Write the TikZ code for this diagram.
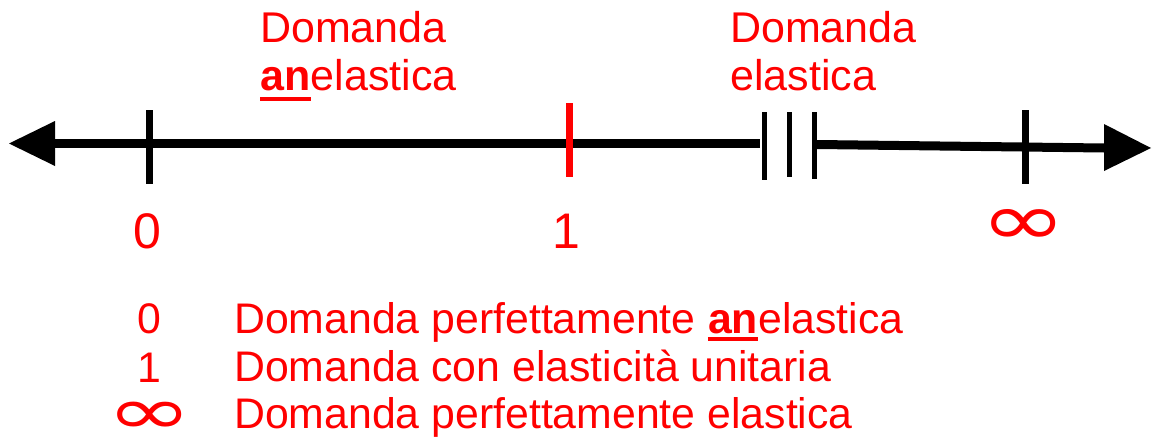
\documentclass[tikz,border=0pt]{standalone}
\usepackage{fontspec}
\usepackage{graphicx}
\setmainfont{Liberation Sans}
\newfontfamily\dejavu{DejaVu Sans}
\begin{document}
\begin{tikzpicture}[x=1pt,y=-1pt,
  lab/.style={text=red, inner sep=0, font=\fontsize{43}{48}\selectfont, anchor=base west},
  leg/.style={text=red, inner sep=0, font=\fontsize{42.8}{48}\selectfont, anchor=base west},
  num/.style={text=red, inner sep=0, font=\fontsize{50}{56}\selectfont, anchor=base},
  lnum/.style={text=red, inner sep=0, font=\fontsize{42.8}{48}\selectfont, anchor=base},
  inf/.style={text=red, inner sep=0, font=\dejavu\fontsize{74}{80}\selectfont, anchor=center},
  axis/.style={line width=9pt},
  tick/.style={line width=7pt},
  brk/.style={line width=5pt},
  ul/.style={red, line width=4.5pt}]
\useasboundingbox (0,0) rectangle (1154,439);
% axis
\coordinate (lt) at (9,143.5);
\coordinate (lb1) at (55,121);
\coordinate (lb2) at (55,166);
\coordinate (lb) at (55,143.5);
\coordinate (b1) at (760,143.5);
\coordinate (b2) at (817,144.5);
\coordinate (rb) at (1104,148);
\coordinate (rb1) at (1104,124);
\coordinate (rb2) at (1104,171);
\coordinate (rt) at (1151,148);
\draw[axis] (lb) -- (b1);
\draw[axis] (b2) -- (rb);
\fill (lt) -- (lb1) -- (lb2) -- cycle;
\fill (rt) -- (rb1) -- (rb2) -- cycle;
% break
\draw[brk] (764.5,112) -- (764.5,180);
\draw[brk] (789.5,112) -- (789.5,177);
\draw[brk] (814.5,112) -- (814.5,179);
% ticks
\draw[tick] (149.5,110) -- (149.5,184);
\draw[tick, red] (569.5,103) -- (569.5,177);
\draw[tick] (1025.5,110) -- (1025.5,184);
% axis labels
\node[num] (z) at (147,248) {0};
\node[num] (o) at (566,248) {1};
\node[inf] (i) at (1024,227) {\scalebox{1.4}[1]{∞}};
% top labels
\node[lab] (t1a) at (260,42) {Domanda};
\node[lab, font=\fontsize{43}{48}\selectfont\bfseries] (t1an) at (260,90) {an};
\node[lab, anchor=base west] (t1b) at (t1an.base east) {elastica};
\draw[ul] ([yshift=-9pt]t1an.base west) -- ([yshift=-9pt]t1an.base east);
\node[lab] (t2a) at (730,42) {Domanda};
\node[lab] (t2b) at (730,90) {elastica};
% legend
\node[lnum] (n0) at (149.5,333) {0};
\node[lnum] (n1) at (149,382) {1};
\node[inf] (ninf) at (149.5,418) {\scalebox{1.4}[0.9]{∞}};
\node[leg] (l1) at (234,333) {Domanda perfettamente};
\node[leg, font=\fontsize{42.8}{48}\selectfont\bfseries, xshift=11.9pt] (l1an) at (l1.base east) {an};
\node[leg] (l1b) at (l1an.base east) {elastica};
\draw[ul] ([yshift=-6pt]l1an.base west) -- ([yshift=-6pt]l1an.base east);
\node[leg] (l2) at (234,381) {Domanda con elasticità unitaria};
\node[leg] (l3) at (234,428) {Domanda perfettamente elastica};
\end{tikzpicture}
\end{document}
